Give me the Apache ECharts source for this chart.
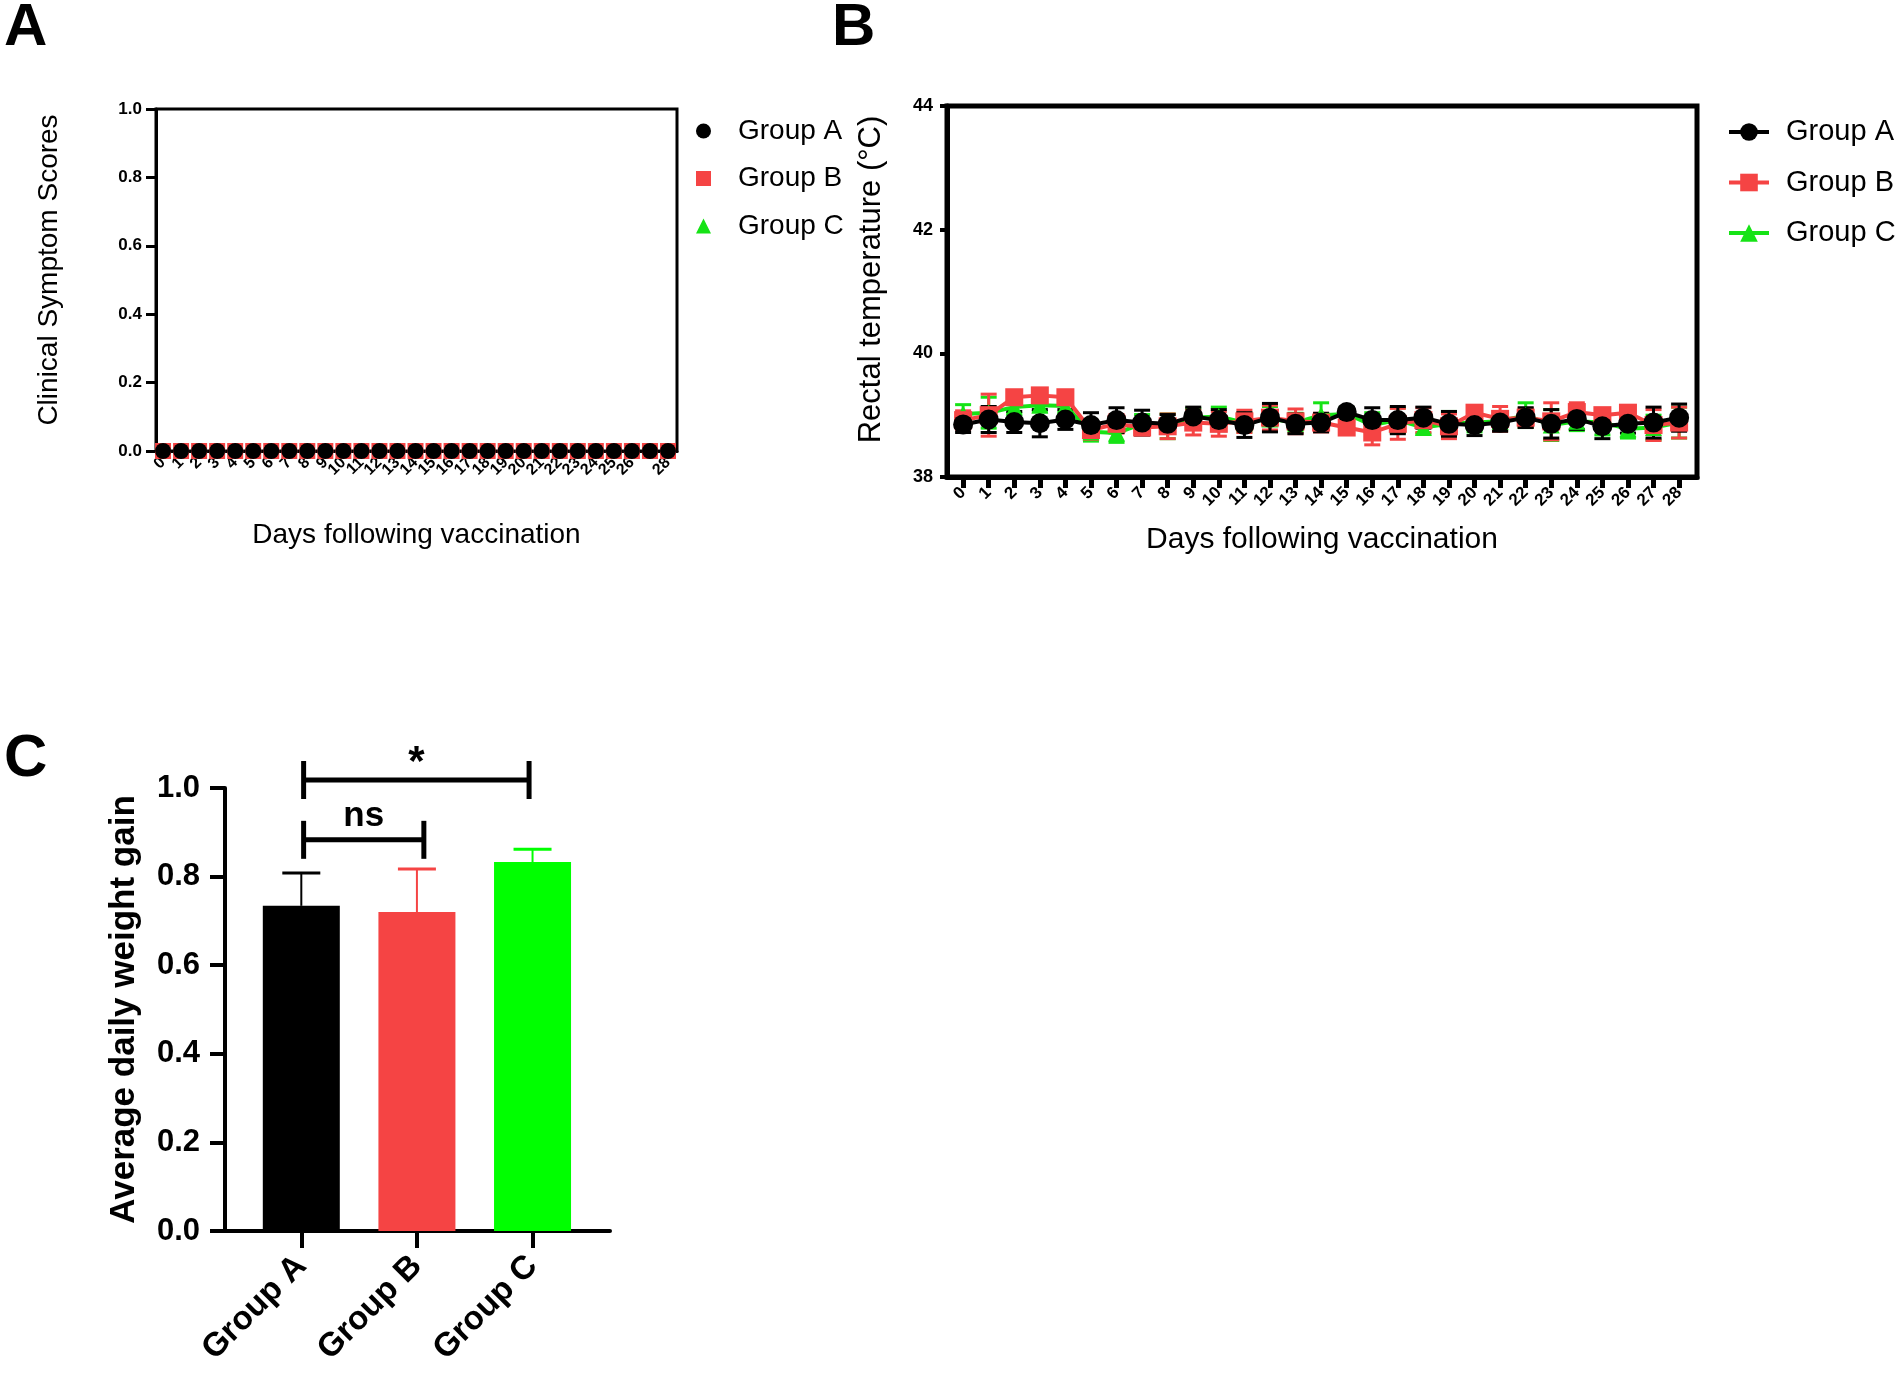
<!DOCTYPE html>
<html>
<head>
<meta charset="utf-8">
<script src="https://cdn.jsdelivr.net/npm/echarts@6/dist/echarts.min.js"></script>
<style>
  html, body { margin: 0; padding: 0; background: #fff; }
  #wrap { position: relative; width: 1904px; height: 1374px; }
  .panel { position: absolute; }
</style>
</head>
<body>
<div id="wrap">
  <div id="pa" class="panel" style="left:0;top:0;width:870px;height:640px"></div>
  <div id="pb" class="panel" style="left:825px;top:0;width:1079px;height:640px"></div>
  <div id="pc" class="panel" style="left:0;top:640px;width:820px;height:734px"></div>
</div>
<script>
// ---- data ----
var groups = ['Group A', 'Group B', 'Group C'];
var days = [0, 1, 2, 3, 4, 5, 6, 7, 8, 9, 10, 11, 12, 13, 14, 15, 16, 17, 18, 19, 20, 21, 22, 23, 24, 25, 26, 27, 28];

// A: clinical symptom scores (all zero)
var scoreA = [0, 0, 0, 0, 0, 0, 0, 0, 0, 0, 0, 0, 0, 0, 0, 0, 0, 0, 0, 0, 0, 0, 0, 0, 0, 0, 0, 0, 0];
var scoreB = [0, 0, 0, 0, 0, 0, 0, 0, 0, 0, 0, 0, 0, 0, 0, 0, 0, 0, 0, 0, 0, 0, 0, 0, 0, 0, 0, 0, 0];
var scoreC = [0, 0, 0, 0, 0, 0, 0, 0, 0, 0, 0, 0, 0, 0, 0, 0, 0, 0, 0, 0, 0, 0, 0, 0, 0, 0, 0, 0, 0];

// B: rectal temperature mean / sd
var tempA = [38.85, 38.93, 38.89, 38.87, 38.93, 38.84, 38.92, 38.88, 38.86, 38.98, 38.92, 38.84, 38.96, 38.86, 38.88, 39.05,
  38.92, 38.92, 38.96, 38.86, 38.84, 38.88, 38.96, 38.86, 38.94, 38.82, 38.86, 38.88, 38.96];
var sdA = [0.13, 0.21, 0.17, 0.22, 0.16, 0.20, 0.20, 0.20, 0.15, 0.15, 0.17, 0.20, 0.23, 0.16, 0.15, 0.08,
  0.20, 0.22, 0.17, 0.20, 0.17, 0.14, 0.16, 0.23, 0.17, 0.20, 0.15, 0.25, 0.22];
var tempB = [38.92, 39.00, 39.29, 39.32, 39.29, 38.76, 38.86, 38.80, 38.82, 38.88, 38.86, 38.90, 38.96, 38.90, 38.88, 38.80,
  38.72, 38.86, 38.92, 38.82, 39.04, 38.94, 38.96, 38.90, 39.05, 39.00, 39.04, 38.84, 38.88];
var sdB = [0.15, 0.34, 0.10, 0.05, 0.05, 0.15, 0.15, 0.12, 0.20, 0.20, 0.20, 0.18, 0.20, 0.20, 0.15, 0.10,
  0.20, 0.25, 0.20, 0.20, 0.08, 0.20, 0.15, 0.30, 0.15, 0.10, 0.10, 0.25, 0.25];
var tempC = [39.02, 39.04, 39.13, 39.16, 39.15, 38.73, 38.71, 38.86, 38.82, 38.96, 38.98, 38.88, 38.94, 38.88, 39.00, 39.02,
  38.84, 38.92, 38.80, 38.86, 38.88, 38.90, 39.00, 38.84, 38.90, 38.88, 38.78, 38.80, 38.88];
var sdC = [0.15, 0.25, 0.10, 0.10, 0.10, 0.15, 0.15, 0.15, 0.20, 0.15, 0.15, 0.15, 0.20, 0.15, 0.20, 0.10,
  0.20, 0.20, 0.10, 0.20, 0.15, 0.15, 0.20, 0.25, 0.15, 0.20, 0.15, 0.20, 0.25];

// C: average daily weight gain
var gainMean = [0.734, 0.720, 0.833];
var gainSd = [0.074, 0.097, 0.029];
// significance brackets
var sigFrom = [0.02, 0.02];
var sigTo = [1.97, 1.06];
var sigLevel = [1.018, 0.883];
var sigLabel = ['*', 'ns'];

// ---- styles ----
var FONT = 'Liberation Sans, Arial, sans-serif';
var BLACK = '#000000';
var RED = '#F54444';
var GREEN = '#16E316';
var GREEN_BAR = '#00FF00';

function pairs(xs, ys) {
  return xs.map(function (x, i) { return [x, ys[i]]; });
}
function triples(xs, ys, es) {
  return xs.map(function (x, i) { return [x, ys[i], es[i]]; });
}

function panelTitle(txt, left, top) {
  return {
    text: txt, left: left, top: top, padding: 0,
    textStyle: { fontFamily: FONT, fontSize: 60, fontWeight: 'bold', color: BLACK }
  };
}

function errRender(params, api) {
  var x = api.value(0), m = api.value(1), sd = api.value(2);
  var hi = api.coord([x, m + sd]);
  var lo = api.coord([x, m - sd]);
  var col = api.visual('color');
  var cap = 8;
  var st = { stroke: col, lineWidth: 3 };
  return {
    type: 'group',
    children: [
      { type: 'line', shape: { x1: hi[0], y1: hi[1], x2: lo[0], y2: lo[1] }, style: st },
      { type: 'line', shape: { x1: hi[0] - cap, y1: hi[1], x2: hi[0] + cap, y2: hi[1] }, style: st },
      { type: 'line', shape: { x1: lo[0] - cap, y1: lo[1], x2: lo[0] + cap, y2: lo[1] }, style: st }
    ]
  };
}

// ---- panel A ----
var chartA = echarts.init(document.getElementById('pa'));
chartA.setOption({
  backgroundColor: 'transparent',
  animation: false,
  title: panelTitle('A', 4, -2),
  grid: { left: 156, top: 109, width: 521, height: 342, show: true, borderColor: BLACK, borderWidth: 3,
    containLabel: false, outerBoundsMode: 'none' },
  legend: {
    orient: 'vertical', left: 691, top: 111, itemWidth: 15, itemHeight: 15, itemGap: 17.5,
    data: groups,
    textStyle: { fontFamily: FONT, fontSize: 28, color: BLACK, lineHeight: 30, padding: [0, 0, 0, 22] }
  },
  xAxis: {
    type: 'value', min: -0.39, max: 28.5,
    name: 'Days following vaccination', nameLocation: 'middle', nameGap: 70, nameMoveOverlap: false,
    nameTextStyle: { fontFamily: FONT, fontSize: 28, color: BLACK },
    axisLine: { show: true, lineStyle: { color: BLACK, width: 3 } },
    axisTick: { show: true, customValues: days, length: 4, lineStyle: { color: BLACK, width: 2 } },
    axisLabel: { customValues: days, rotate: 45, margin: 9, fontFamily: FONT, fontSize: 16, fontWeight: 'bold', color: BLACK,
      showMinLabel: true, showMaxLabel: true, hideOverlap: false },
    splitLine: { show: false }
  },
  yAxis: {
    type: 'value', min: 0, max: 1, interval: 0.2,
    name: 'Clinical Symptom Scores', nameLocation: 'middle', nameGap: 93, nameMoveOverlap: false,
    nameTextStyle: { fontFamily: FONT, fontSize: 28, color: BLACK, padding: [0, 0, 0, 20] },
    axisLine: { show: true, onZero: false, lineStyle: { color: BLACK, width: 3 } },
    axisTick: { show: true, length: 10, lineStyle: { color: BLACK, width: 3 } },
    axisLabel: { margin: 14, fontFamily: FONT, fontSize: 17, fontWeight: 'bold', color: BLACK,
      formatter: function (v) { return v.toFixed(1); } },
    splitLine: { show: false }
  },
  series: [
    { name: 'Group C', type: 'scatter', symbol: 'triangle', symbolSize: 15, clip: false,
      itemStyle: { color: GREEN, opacity: 1 }, data: pairs(days, scoreC) },
    { name: 'Group B', type: 'scatter', symbol: 'rect', symbolSize: 16, clip: false,
      itemStyle: { color: RED, opacity: 1 }, data: pairs(days, scoreB) },
    { name: 'Group A', type: 'scatter', symbol: 'circle', symbolSize: 16, clip: false,
      itemStyle: { color: BLACK, opacity: 1 }, data: pairs(days, scoreA) }
  ]
});

// ---- panel B ----
var chartB = echarts.init(document.getElementById('pb'));
function tempLine(name, col, sym, size, vals) {
  return { name: name, type: 'line', symbol: sym, symbolSize: size, showSymbol: true, clip: false,
    itemStyle: { color: col, opacity: 1 }, lineStyle: { color: col, width: 4 }, data: pairs(days, vals) };
}
function tempErr(col, vals, sds) {
  return { type: 'custom', renderItem: errRender, itemStyle: { color: col }, silent: true,
    data: triples(days, vals, sds) };
}
chartB.setOption({
  backgroundColor: 'transparent',
  animation: false,
  title: panelTitle('B', 7, -2),
  grid: { left: 122, top: 106, width: 750, height: 371, show: true, borderColor: BLACK, borderWidth: 5,
    containLabel: false, outerBoundsMode: 'none' },
  legend: {
    orient: 'vertical', left: 897, top: 112, itemWidth: 40, itemHeight: 22, itemGap: 20.5,
    data: groups,
    lineStyle: { width: 4 },
    textStyle: { fontFamily: FONT, fontSize: 29, color: BLACK, lineHeight: 30, padding: [0, 0, 0, 12] }
  },
  xAxis: {
    type: 'value', min: -0.63, max: 28.7,
    name: 'Days following vaccination', nameLocation: 'middle', nameGap: 48, nameMoveOverlap: false,
    nameTextStyle: { fontFamily: FONT, fontSize: 30, color: BLACK },
    axisLine: { show: true, lineStyle: { color: BLACK, width: 5 } },
    axisTick: { show: true, customValues: days, length: 11, lineStyle: { color: BLACK, width: 5 } },
    axisLabel: { customValues: days, rotate: 45, margin: 13, fontFamily: FONT, fontSize: 17, fontWeight: 'bold', color: BLACK,
      hideOverlap: false },
    splitLine: { show: false }
  },
  yAxis: {
    type: 'value', min: 38, max: 44, interval: 2,
    name: 'Rectal temperature (°C)', nameLocation: 'middle', nameGap: 60, nameMoveOverlap: false,
    nameTextStyle: { fontFamily: FONT, fontSize: 31, color: BLACK, padding: [0, 0, 0, 24] },
    axisLine: { show: true, onZero: false, lineStyle: { color: BLACK, width: 5 } },
    axisTick: { show: true, length: 7, lineStyle: { color: BLACK, width: 4 } },
    axisLabel: { margin: 14, fontFamily: FONT, fontSize: 18, fontWeight: 'bold', color: BLACK },
    splitLine: { show: false }
  },
  series: [
    tempErr(GREEN, tempC, sdC),
    tempLine('Group C', GREEN, 'triangle', 17, tempC),
    tempErr(RED, tempB, sdB),
    tempLine('Group B', RED, 'rect', 18, tempB),
    tempErr(BLACK, tempA, sdA),
    tempLine('Group A', BLACK, 'circle', 20, tempA)
  ]
});

// ---- panel C ----
var chartC = echarts.init(document.getElementById('pc'));
var barColors = [BLACK, RED, GREEN_BAR];
var groupPos = [0, 1, 2];
chartC.setOption({
  backgroundColor: 'transparent',
  animation: false,
  title: panelTitle('C', 4, 89),
  grid: { left: 225, top: 148, width: 385, height: 443, show: false, containLabel: false, outerBoundsMode: 'none' },
  xAxis: {
    type: 'value', min: -0.66, max: 2.67,
    axisLine: { show: true, onZero: false, lineStyle: { color: BLACK, width: 4 } },
    axisTick: { show: true, customValues: groupPos, length: 17, lineStyle: { color: BLACK, width: 4 } },
    axisLabel: { customValues: groupPos, rotate: 45, margin: 30, fontFamily: FONT, fontSize: 33, fontWeight: 'bold', color: BLACK,
      formatter: function (v) { return groups[Math.round(v)]; } },
    splitLine: { show: false }
  },
  yAxis: {
    type: 'value', min: 0, max: 1, interval: 0.2,
    name: 'Average daily weight gain', nameLocation: 'middle', nameGap: 83, nameMoveOverlap: false,
    nameTextStyle: { fontFamily: FONT, fontSize: 35, fontWeight: 'bold', color: BLACK },
    axisLine: { show: true, onZero: false, lineStyle: { color: BLACK, width: 4 } },
    axisTick: { show: true, length: 15, lineStyle: { color: BLACK, width: 4 } },
    axisLabel: { margin: 25, fontFamily: FONT, fontSize: 31, fontWeight: 'bold', color: BLACK,
      formatter: function (v) { return v.toFixed(1); } },
    splitLine: { show: false }
  },
  series: [
    {
      type: 'bar', barWidth: 77,
      data: groupPos.map(function (x, i) {
        return { value: [x, gainMean[i]], itemStyle: { color: barColors[i] } };
      })
    },
    {
      type: 'custom', silent: true,
      data: triples(groupPos, gainMean, gainSd),
      renderItem: function (params, api) {
        var x = api.value(0), m = api.value(1), sd = api.value(2);
        var base = api.coord([x, m]);
        var top = api.coord([x, m + sd]);
        var col = barColors[params.dataIndex];
        return {
          type: 'group',
          children: [
            { type: 'line', shape: { x1: base[0], y1: base[1], x2: top[0], y2: top[1] }, style: { stroke: col, lineWidth: 2 } },
            { type: 'line', shape: { x1: top[0] - 19, y1: top[1], x2: top[0] + 19, y2: top[1] }, style: { stroke: col, lineWidth: 3 } }
          ]
        };
      }
    },
    {
      type: 'custom', silent: true,
      data: sigFrom.map(function (f, i) { return [f, sigTo[i], sigLevel[i]]; }),
      renderItem: function (params, api) {
        var a = api.coord([api.value(0), api.value(2)]);
        var b = api.coord([api.value(1), api.value(2)]);
        var h = 19;
        var st = { stroke: BLACK, lineWidth: 5 };
        var lbl = sigLabel[params.dataIndex];
        return {
          type: 'group',
          children: [
            { type: 'line', shape: { x1: a[0], y1: a[1], x2: b[0], y2: b[1] }, style: st },
            { type: 'line', shape: { x1: a[0], y1: a[1] - h, x2: a[0], y2: a[1] + h }, style: st },
            { type: 'line', shape: { x1: b[0], y1: b[1] - h, x2: b[0], y2: b[1] + h }, style: st },
            { type: 'text', x: (a[0] + b[0]) / 2, y: a[1] - (lbl === '*' ? -4 : 6),
              style: { text: lbl, fill: BLACK, align: 'center', verticalAlign: 'bottom',
                fontFamily: FONT, fontSize: lbl === '*' ? 42 : 35, fontWeight: 'bold' } }
          ]
        };
      }
    }
  ]
});
</script>
</body>
</html>
